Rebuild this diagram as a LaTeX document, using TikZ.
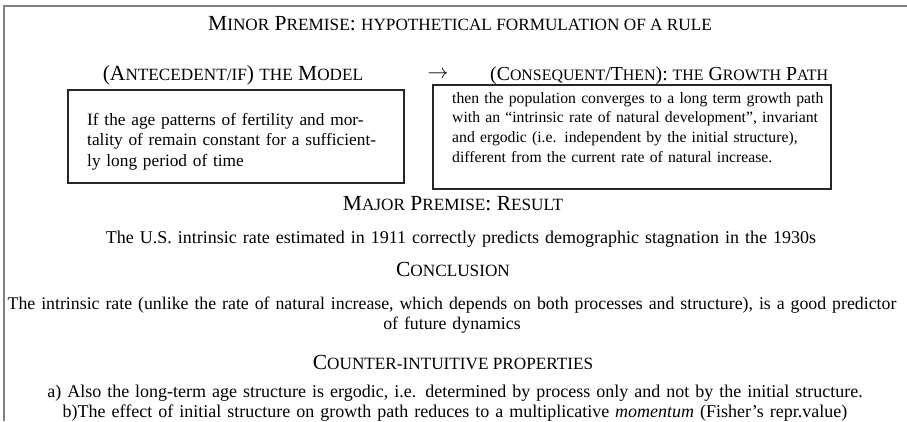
\documentclass[tikz,border=0pt]{standalone}
\usepackage{fontspec}
\setmainfont{Liberation Serif}
\usetikzlibrary{positioning}

% fake small capitals: capitals at full size, the rest smaller
\newcommand{\smc}[1]{{\fontsize{17.2}{20}\selectfont #1}}
\newcommand{\smcs}[1]{{\fontsize{15.9}{19}\selectfont #1}}

\tikzset{
  heading/.style={font=\fontsize{21.5}{24}\selectfont, inner sep=0pt, anchor=base},
  bodytext/.style={font=\fontsize{18}{20}\selectfont, inner sep=0pt, anchor=base, align=center, text width=907pt},
  boxtext/.style={font=\fontsize{17.3}{20.5}\selectfont, inner sep=0pt, anchor=base west, align=left, text width=400pt},
  rulebox/.style={draw=black!85, line width=1.8pt, inner sep=0pt}
}

\begin{document}
\begin{tikzpicture}[x=1pt,y=-1pt]
\useasboundingbox (0,0) rectangle (907,421);
%frame
\draw[gray, line width=1.4pt] (4,421) -- (4,6) -- (907,6);
%minor premise
\node[heading] (minor) at (460,30) {M\smc{INOR} P\smc{REMISE}: \smc{HYPOTHETICAL FORMULATION OF A RULE}};
\node[heading] (antecedent) at (233,80) {(A\smc{NTECEDENT/IF}) \smc{THE} M\smc{ODEL}};
\node[heading] (arrow) at (438,78) {$\rightarrow$};
\node[heading, anchor=base west, font=\fontsize{19.8}{22}\selectfont] (consequent) at (490,80) {(C\smcs{ONSEQUENT}/T\smcs{HEN}): \smcs{THE} G\smcs{ROWTH} P\smcs{ATH}};
%the two boxes
\node[rulebox, minimum width=336pt, minimum height=93pt] (ifbox) at (236,136.5) {};
\node[rulebox, minimum width=398pt, minimum height=104pt] (thenbox) at (632,137) {};
\node[boxtext] (iftext) at (87,125) {If the age patterns of fertility and mor-\\tality of remain constant for a sufficient-\\ly long period of time};
\node[boxtext, font=\fontsize{15.7}{19.7}\selectfont] (thentext) at (452,103) {then the population converges to a long term growth path\\with an ``intrinsic rate of natural development'', invariant\\and ergodic (i.e. independent by the initial structure),\\different from the current rate of natural increase.};
%major premise
\node[heading] (major) at (453,210) {M\smc{AJOR} P\smc{REMISE}: R\smc{ESULT}};
\node[bodytext] (result) at (461,243) {The U.S. intrinsic rate estimated in 1911 correctly predicts demographic stagnation in the 1930s};
%conclusion
\node[heading] (conclusion) at (453,276) {C\smc{ONCLUSION}};
\node[bodytext, font=\fontsize{17.8}{20}\selectfont] (conctext) at (452,309) {The intrinsic rate (unlike the rate of natural increase, which depends on both processes and structure), is a good predictor\\of future dynamics};
%counter-intuitive properties
\node[heading] (counter) at (453,369) {C\smc{OUNTER-INTUITIVE PROPERTIES}};
\node[bodytext] (props) at (455,397) {a) Also the long-term age structure is ergodic, i.e. determined by process only and not by the initial structure.\\b)The effect of initial structure on growth path reduces to a multiplicative \textit{momentum} (Fisher's repr.value)};
\end{tikzpicture}
\end{document}
